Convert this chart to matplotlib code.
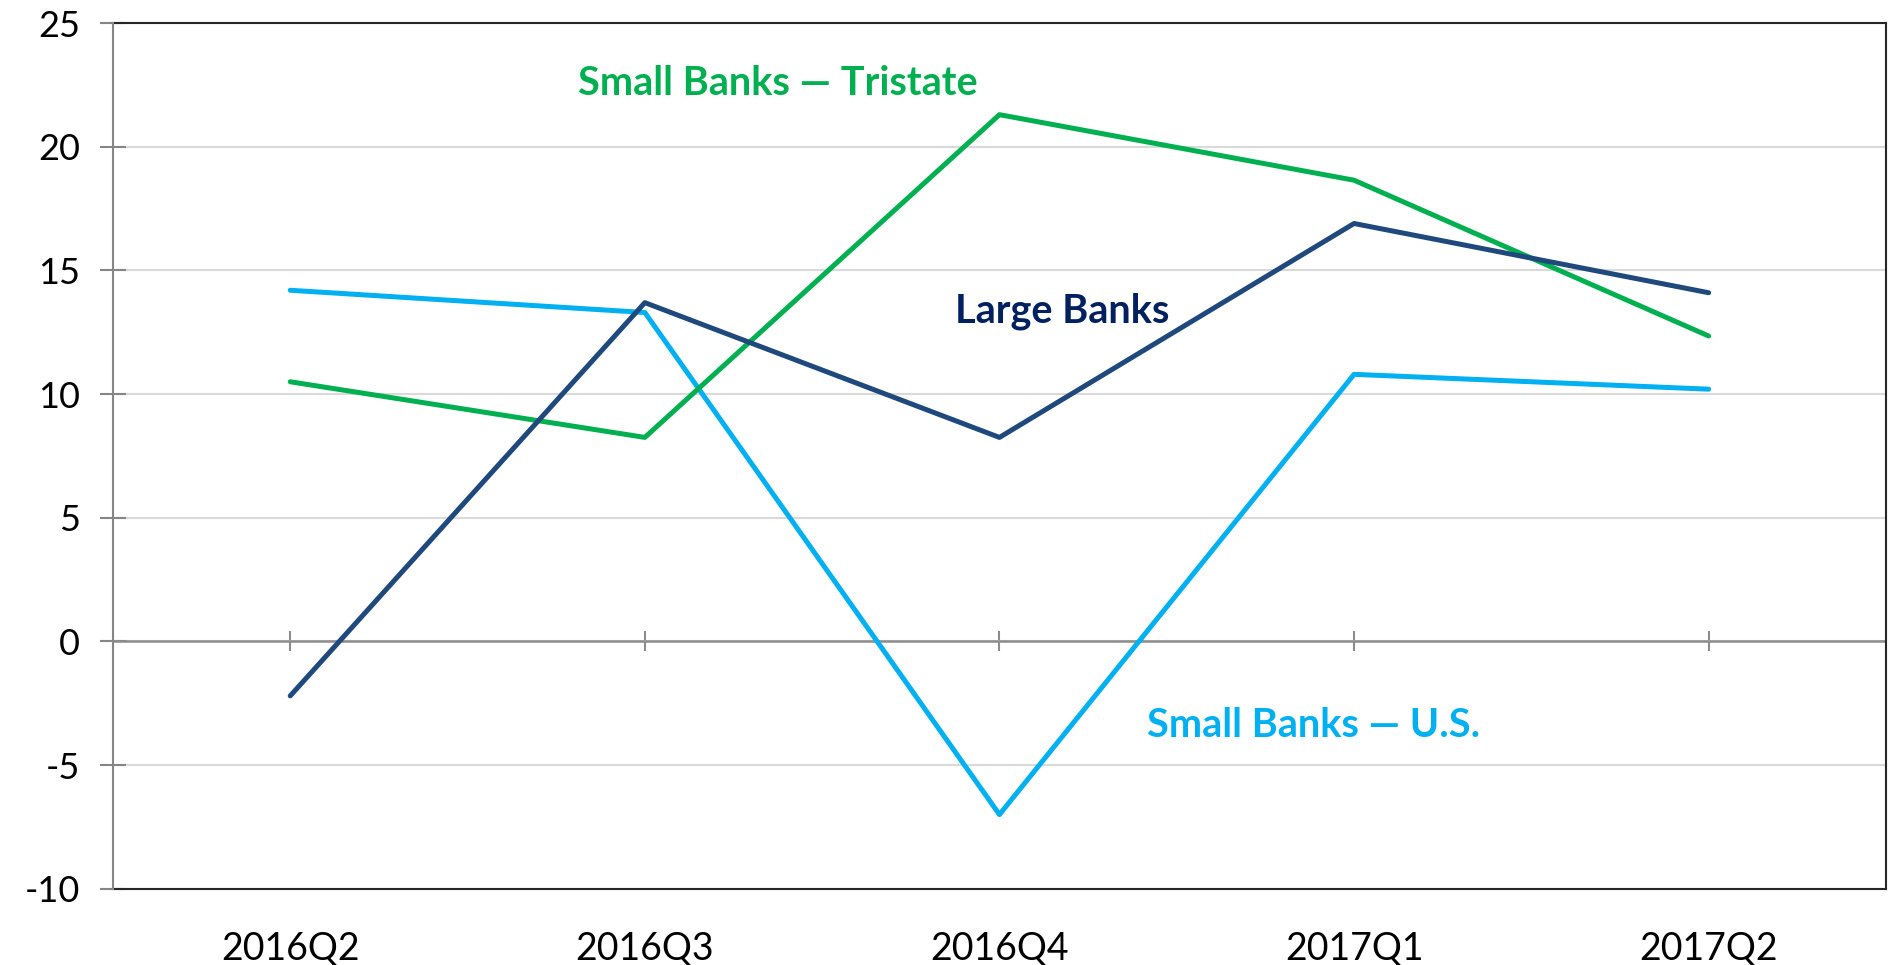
import matplotlib
matplotlib.use("Agg")
import matplotlib.pyplot as plt

categories = ["2016Q2", "2016Q3", "2016Q4", "2017Q1", "2017Q2"]
small_us = [14.2, 13.3, -7.0, 10.8, 10.2]
small_tristate = [10.5, 8.25, 21.3, 18.65, 12.35]
large_banks = [-2.2, 13.7, 8.25, 16.9, 14.1]
y_ticks = [-10, -5, 0, 5, 10, 15, 20, 25]

plt.rcParams['font.family'] = ['Lato', 'DejaVu Sans']

fig = plt.figure(figsize=(18.92, 9.65), dpi=100)
ax = fig.add_axes([0.0597, 0.079, 0.9968 - 0.0597, 0.976 - 0.079])

x = list(range(len(categories)))
lw = 3.6
ax.plot(x, small_us, color="#00B0F0", lw=lw, solid_capstyle="round", solid_joinstyle="round", zorder=3)
ax.plot(x, small_tristate, color="#00B050", lw=lw, solid_capstyle="round", solid_joinstyle="round", zorder=3)
ax.plot(x, large_banks, color="#1F497D", lw=lw, solid_capstyle="round", solid_joinstyle="round", zorder=4)

ax.set_xlim(-0.5, len(categories) - 0.5)
ax.set_ylim(-10, 25)
ax.set_yticks(y_ticks)
ax.set_yticklabels([str(v) for v in y_ticks])
ax.grid(axis="y", color="#D9D9D9", lw=1.5, zorder=0)
ax.set_axisbelow(True)

ax.set_xticks(x)
ax.set_xticklabels(categories)
ax.tick_params(axis="x", length=0, pad=30, labelsize=27)
ax.tick_params(axis="y", direction="inout", length=19, width=1.5, color="#868686", pad=14, labelsize=26)

for s in ["top", "bottom", "right"]:
    ax.spines[s].set_color("#262626")
    ax.spines[s].set_linewidth(1.5)
ax.spines["left"].set_color("#868686")
ax.spines["left"].set_linewidth(1.5)
ax.spines["left"].set_zorder(5)

# zero axis line with category tick marks
ax.axhline(0, color="#8C8C8C", lw=1.8, zorder=2)
sec = ax.secondary_xaxis(location=10 / 35)
sec.set_xticks(x)
sec.set_xticklabels([])
sec.tick_params(axis="x", direction="inout", length=14.4, width=1.5, color="#8C8C8C")
for s in sec.spines.values():
    s.set_visible(False)

ax.text(1.374, 22.55, "Small Banks — Tristate", color="#00B050", fontsize=28.5, fontweight="bold",
        ha="center", va="center")
ax.text(2.176, 13.35, "Large Banks", color="#002060", fontsize=28.5, fontweight="bold",
        ha="center", va="center")
ax.text(2.886, -3.4, "Small Banks — U.S.", color="#00B0F0", fontsize=28.5, fontweight="bold",
        ha="center", va="center")

fig.savefig("out.png", dpi=100, facecolor="white")
